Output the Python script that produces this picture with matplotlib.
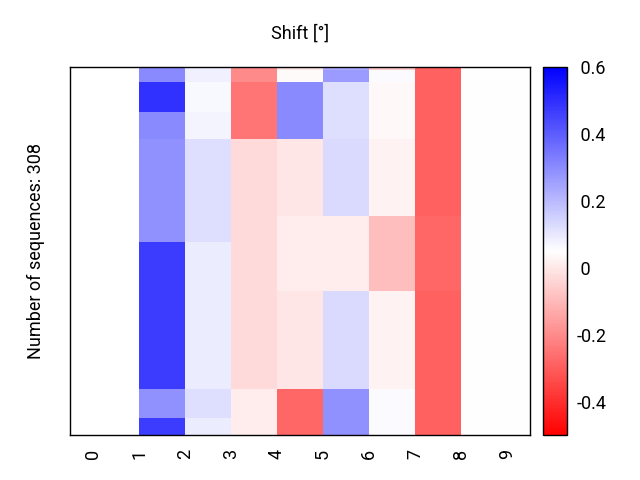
import numpy as np
import matplotlib
matplotlib.use("Agg")
import matplotlib.pyplot as plt

plt.rcParams['font.family'] = ['Roboto', 'DejaVu Sans']

# Row blocks (number of sequences in each block, top to bottom)
block_sizes = [3, 10, 25, 23, 64, 22, 41, 82, 24, 14]

# Shift values per block for each position column
col1 = [0.30, 0.30, 0.49, 0.30, 0.288, 0.288, 0.468, 0.468, 0.288, 0.468]
col2 = [0.082, 0.082, 0.065, 0.072, 0.122, 0.122, 0.091, 0.091, 0.122, 0.091]
col3 = [-0.202, -0.202, -0.248, -0.248, -0.030, -0.030, -0.030, -0.030, 0.009, 0.009]
col4 = [-0.004, 0.039, 0.302, 0.302, -0.004, 0.009, 0.009, -0.004, -0.28, -0.28]
col5 = [0.233, 0.268, 0.122, 0.122, 0.13, 0.009, 0.009, 0.13, 0.288, 0.288]
col6 = [-0.058, 0.061, 0.037, 0.037, 0.024, -0.090, -0.090, 0.024, 0.061, 0.061]
col7 = [-0.293, -0.293, -0.293, -0.293, -0.293, -0.28, -0.28, -0.293, -0.293, -0.293]
col8 = [0.048] * 10
col9 = [0.048] * 10
col0 = [np.nan] * 10

positions = list(range(10))
xtick_labels = [str(p) for p in positions]
n_sequences = 308

cbar_ticks = [0.6, 0.4, 0.2, 0.0, -0.2, -0.4]
cbar_labels = [' 0.6', ' 0.4', ' 0.2', ' 0', '-0.2', '-0.4']

cols = [col0, col1, col2, col3, col4, col5, col6, col7, col8, col9]
data = np.column_stack([np.repeat(np.array(c, dtype=float), block_sizes) for c in cols])

fig = plt.figure(figsize=(6.4, 4.8), dpi=100)
W, H = 640, 480
ax_l, ax_r, ax_t, ax_b = 70, 530, 66.7, 435.3
ax = fig.add_axes([ax_l / W, 1 - ax_b / H, (ax_r - ax_l) / W, (ax_b - ax_t) / H])

im = ax.imshow(data, aspect='auto', cmap='bwr_r', vmin=-0.5, vmax=0.6,
               extent=(0, 10, n_sequences, 0), interpolation='nearest')
ax.set_xlim(-0.5, 9.5)
ax.set_ylim(n_sequences, 0)
ax.set_xticks(positions)
ax.set_xticklabels(xtick_labels, rotation=90, fontsize=13)
ax.tick_params(axis='x', length=0, pad=10)
ax.set_yticks([])
for s in ax.spines.values():
    s.set_linewidth(1.0)
    s.set_color('black')

ax.set_title('Shift [°]', fontsize=13, pad=20)
ax.set_ylabel(f'Number of sequences: {n_sequences}', fontsize=13, labelpad=18)

cax = fig.add_axes([543.3 / W, 1 - ax_b / H, 23.4 / W, (ax_b - ax_t) / H])
cb = fig.colorbar(im, cax=cax)
cb.set_ticks(cbar_ticks)
cb.set_ticklabels(cbar_labels)
cb.ax.tick_params(length=0, pad=7, labelsize=13)
cb.outline.set_linewidth(1.0)

fig.savefig('out.png', dpi=100)
